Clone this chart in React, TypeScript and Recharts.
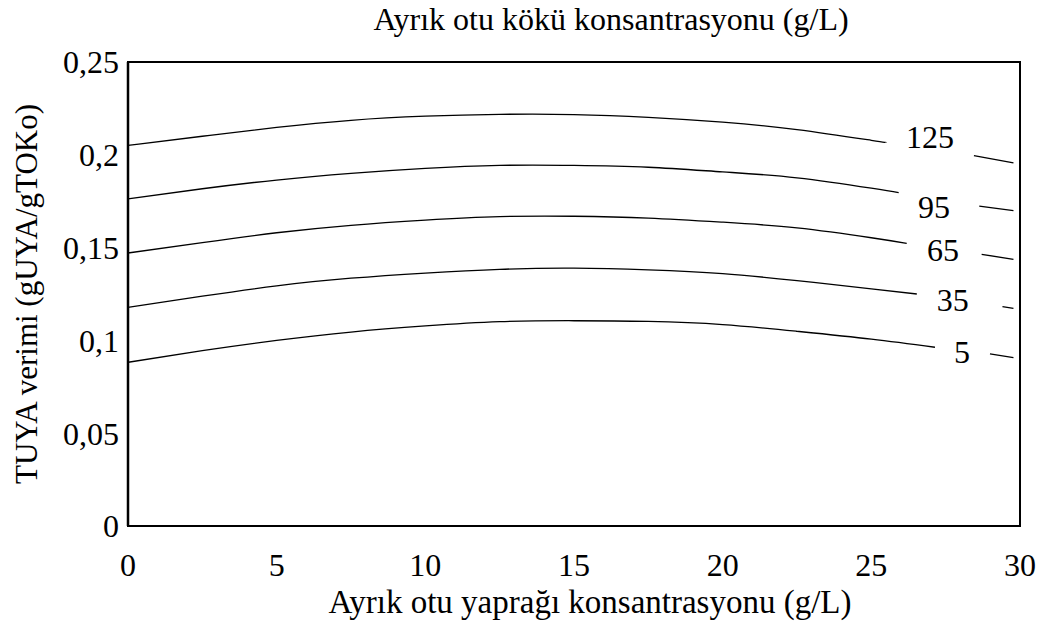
import React from 'react';
import {
  LineChart,
  Line,
  XAxis,
  YAxis,
  ReferenceArea,
  ReferenceDot,
} from 'recharts';

document.body.style.margin = '0';

// yaprak konsantrasyonu (g/L) - ortak x noktalari
const xMain = [0, 2.5, 5, 7.5, 10, 12.5, 15, 17.5, 20, 22.5, 25];

// kok konsantrasyonu egrileri
const y125 = [0.2051, 0.2100, 0.2148, 0.2186, 0.2208, 0.2218, 0.2217, 0.2202, 0.2176, 0.2136, 0.2078];
const y95 = [0.1762, 0.1817, 0.1864, 0.1900, 0.1927, 0.1943, 0.1943, 0.1933, 0.1908, 0.1876, 0.1820];
const y65 = [0.1471, 0.1527, 0.1580, 0.1620, 0.1648, 0.1667, 0.1669, 0.1659, 0.1637, 0.1606, 0.1553];
const y35 = [0.1178, 0.1238, 0.1294, 0.1335, 0.1363, 0.1383, 0.1389, 0.1380, 0.1360, 0.1322, 0.1278];
const y5 = [0.0882, 0.0945, 0.1000, 0.1045, 0.1078, 0.1101, 0.1106, 0.1102, 0.1085, 0.1049, 0.1007];

// etiket boslugundan once / sonra
const head125 = [[25.48, 0.2067]];
const tail125 = [[28.45, 0.1995], [29.78, 0.1956]];
const head95 = [[25.92, 0.1796]];
const tail95 = [[28.63, 0.1724], [29.78, 0.1699]];
const head65 = [[26.19, 0.1523]];
const tail65 = [[28.71, 0.1464], [29.78, 0.1437]];
const head35 = [[26.53, 0.1250]];
const tail35 = [[29.41, 0.1182], [29.78, 0.1173]];
const head5 = [[27.14, 0.0963]];
const tail5 = [[28.99, 0.0927], [29.78, 0.0907]];

const curveNames = ['125', '95', '65', '35', '5'];
const labelX = [26.97, 27.11, 27.41, 27.74, 28.05];
const labelY = [0.2098, 0.1720, 0.1487, 0.1218, 0.0939];

const xTicks = [0, 5, 10, 15, 20, 25, 30];
const yTicks = [0, 0.05, 0.1, 0.15, 0.2, 0.25];

const FONT = "'Liberation Serif', 'Times New Roman', serif";
const textStyle = { fontSize: 32, fill: '#000', fontFamily: FONT };

function build(ys: number[], head: number[][], tail: number[][]) {
  const pts: { x: number; y: number | null }[] = xMain.map((x, i) => ({ x, y: ys[i] }));
  head.forEach(([x, y]) => pts.push({ x, y }));
  pts.push({ x: (head[head.length - 1][0] + tail[0][0]) / 2, y: null });
  tail.forEach(([x, y]) => pts.push({ x, y }));
  return pts;
}

const curves = [
  build(y125, head125, tail125),
  build(y95, head95, tail95),
  build(y65, head65, tail65),
  build(y35, head35, tail35),
  build(y5, head5, tail5),
];

const fmt = (v: number) => String(v).replace('.', ',');

export default function App() {
  return (
    <div style={{ fontFamily: FONT }}>
      <LineChart
        width={1044}
        height={628}
        margin={{ top: 62, right: 24, bottom: 0, left: 0 }}
      >
        <XAxis
          dataKey="x"
          type="number"
          domain={[0, 30]}
          ticks={xTicks}
          tickLine={false}
          tickSize={0}
          tickMargin={27}
          axisLine={false}
          height={102}
          tick={textStyle}
          label={{
            value: 'Ayrık otu yaprağı konsantrasyonu (g/L)',
            position: 'insideBottom',
            offset: 15,
            dx: 16,
            style: { ...textStyle, fontSize: 33 },
          }}
        />
        <YAxis
          type="number"
          domain={[0, 0.25]}
          ticks={yTicks}
          tickFormatter={fmt}
          width={128}
          tickLine={false}
          tickSize={0}
          tickMargin={9}
          axisLine={{ stroke: '#000', strokeWidth: 2.5 }}
          tick={textStyle}
          label={{
            value: 'TUYA verimi (gUYA/gTOKo)',
            angle: -90,
            position: 'insideLeft',
            offset: 26,
            style: { ...textStyle, fontSize: 31, textAnchor: 'middle' },
          }}
        />
        <ReferenceArea
          x1={0}
          x2={30}
          y1={0}
          y2={0.25}
          fill="none"
          stroke="#000"
          strokeWidth={2}
          ifOverflow="visible"
          label={{
            value: 'Ayrık otu kökü konsantrasyonu (g/L)',
            position: 'top',
            offset: 32,
            dx: 37,
            style: textStyle,
          }}
        />
        {curves.map((data, i) => (
          <Line
            key={curveNames[i]}
            data={data}
            dataKey="y"
            type="natural"
            stroke="#000"
            strokeWidth={1.3}
            dot={false}
            activeDot={false}
            isAnimationActive={false}
          />
        ))}
        {curveNames.map((name, i) => (
          <ReferenceDot
            key={'lbl' + name}
            x={labelX[i]}
            y={labelY[i]}
            r={0}
            fill="none"
            stroke="none"
            label={{
              value: name,
              position: 'center',
              style: textStyle,
            }}
          />
        ))}
      </LineChart>
    </div>
  );
}
